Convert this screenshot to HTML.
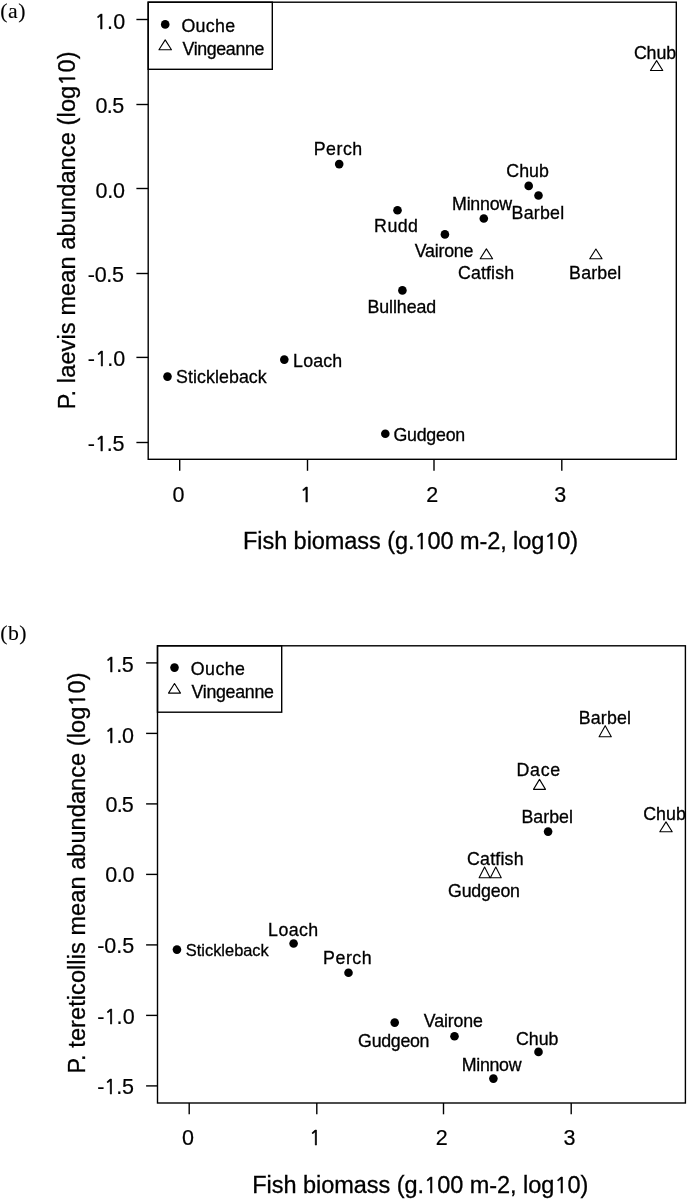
<!DOCTYPE html><html><head><meta charset="utf-8"><style>html,body{margin:0;padding:0;background:#fff;}svg{display:block}text{font-family:"Liberation Sans",Arial,sans-serif;fill:#000;stroke:#000;stroke-width:0.3px}.S{font-family:"Liberation Serif","Times New Roman",serif;font-size:21.8px;stroke-width:0.1px}.L{font-size:17.8px}.T{font-size:21.5px;stroke-width:0.2px}.A{font-size:23.5px}.LS{font-size:16.4px}.one{font-family:NanumGothic,"Liberation Sans",sans-serif;font-size:92%;stroke-width:0.6px}</style></head><body>
<svg width="688" height="1199" viewBox="0 0 688 1199">
<g fill="none" stroke="#000" stroke-width="1.4">
<rect x="148.2" y="2.2" width="528.1" height="457.1"/>
<rect x="148.2" y="2.2" width="124.1" height="67.1"/>
<line x1="136.4" y1="19.5" x2="148.2" y2="19.5"/>
<line x1="136.4" y1="104.5" x2="148.2" y2="104.5"/>
<line x1="136.4" y1="188.5" x2="148.2" y2="188.5"/>
<line x1="136.4" y1="273.5" x2="148.2" y2="273.5"/>
<line x1="136.4" y1="357.4" x2="148.2" y2="357.4"/>
<line x1="136.4" y1="442.5" x2="148.2" y2="442.5"/>
<line x1="179.7" y1="459.3" x2="179.7" y2="470.8"/>
<line x1="307.5" y1="459.3" x2="307.5" y2="470.8"/>
<line x1="434" y1="459.3" x2="434" y2="470.8"/>
<line x1="561.8" y1="459.3" x2="561.8" y2="470.8"/>
<rect x="157.5" y="645.8" width="527.9" height="457.2"/>
<rect x="157.5" y="645.8" width="124.2" height="66.4"/>
<line x1="146.1" y1="662.9" x2="157.5" y2="662.9"/>
<line x1="146.1" y1="733.4" x2="157.5" y2="733.4"/>
<line x1="146.1" y1="803.9" x2="157.5" y2="803.9"/>
<line x1="146.1" y1="874.4" x2="157.5" y2="874.4"/>
<line x1="146.1" y1="944.9" x2="157.5" y2="944.9"/>
<line x1="146.1" y1="1015.4" x2="157.5" y2="1015.4"/>
<line x1="146.1" y1="1085.9" x2="157.5" y2="1085.9"/>
<line x1="189.2" y1="1103" x2="189.2" y2="1114.3"/>
<line x1="316.8" y1="1103" x2="316.8" y2="1114.3"/>
<line x1="443.5" y1="1103" x2="443.5" y2="1114.3"/>
<line x1="571.2" y1="1103" x2="571.2" y2="1114.3"/>
</g><g fill="#000">
<circle cx="165.2" cy="24.4" r="4.3"/>
<circle cx="339.2" cy="164.1" r="4.3"/>
<circle cx="397.5" cy="210.3" r="4.3"/>
<circle cx="444.9" cy="234.4" r="4.3"/>
<circle cx="483.8" cy="218.55" r="4.3"/>
<circle cx="528.7" cy="185.9" r="4.3"/>
<circle cx="538.5" cy="195.5" r="4.3"/>
<circle cx="402.4" cy="290.4" r="4.3"/>
<circle cx="167.5" cy="376.6" r="4.3"/>
<circle cx="284.3" cy="359.6" r="4.3"/>
<circle cx="385.3" cy="433.7" r="4.3"/>
<circle cx="174.5" cy="667.6" r="4.3"/>
<circle cx="548.1" cy="831.6" r="4.3"/>
<circle cx="176.95" cy="949.6" r="4.3"/>
<circle cx="293.6" cy="943.5" r="4.3"/>
<circle cx="348.5" cy="972.8" r="4.3"/>
<circle cx="394.7" cy="1022.6" r="4.3"/>
<circle cx="454.5" cy="1036.2" r="4.3"/>
<circle cx="538.5" cy="1051.9" r="4.3"/>
<circle cx="493.4" cy="1078.6" r="4.3"/>
</g><g fill="none" stroke="#000" stroke-width="1.1" stroke-linejoin="round">
<path d="M165.2 39.9L171.45 49.7H158.95Z"/>
<path d="M486.4 248.9L492.6 258.7H480.2Z"/>
<path d="M595.9 249L602.05 258.8H589.75Z"/>
<path d="M656.6 60.6L662.75 70.5H650.45Z"/>
<path d="M174.5 683.5L180.5 693.1H168.5Z"/>
<path d="M605.2 725.7L611.3 736.8H599.1Z"/>
<path d="M539.5 779.4L545.5 789.35H533.5Z"/>
<path d="M666 821.9L672.2 831.7H659.8Z"/>
<path d="M484.6 867L490.05 877.8H479.15Z"/>
<path d="M495.8 867L501.25 877.8H490.35Z"/>
</g>
<text id="a_ouche" class="L" x="181.41" y="32.05" textLength="53.7" lengthAdjust="spacing">Ouche</text>
<text id="a_vinge" class="L" x="182.45" y="54.6" textLength="81.9" lengthAdjust="spacing">Vingeanne</text>
<text id="a_perch" class="L" x="313.67" y="154.89" textLength="48.54" lengthAdjust="spacing">Perch</text>
<text id="a_rudd" class="L" x="374.11" y="232.36" textLength="43.81" lengthAdjust="spacing">Rudd</text>
<text id="a_minnow" class="L" x="452.11" y="209.76" textLength="60" lengthAdjust="spacing">Minnow</text>
<text id="a_chub" class="L" x="506.35" y="177.47" textLength="42.56" lengthAdjust="spacing">Chub</text>
<text id="a_barbel" class="L" x="511.54" y="218.78" textLength="52.67" lengthAdjust="spacing">Barbel</text>
<text id="a_vairone" class="L" x="414.79" y="257" textLength="58.57" lengthAdjust="spacing">Vairone</text>
<text id="a_catfish" class="L" x="458.01" y="279.09" textLength="56.05" lengthAdjust="spacing">Catfish</text>
<text id="a_barbelv" class="L" x="569.11" y="278.66" textLength="52.17" lengthAdjust="spacing">Barbel</text>
<text id="a_chubv" class="L" x="633.88" y="58.6" textLength="42.21" lengthAdjust="spacing">Chub</text>
<text id="a_bullhead" class="L" x="367.38" y="312.7" textLength="68.81" lengthAdjust="spacing">Bullhead</text>
<text id="a_stickle" class="L" x="176.12" y="383.07" textLength="90.57" lengthAdjust="spacing">Stickleback</text>
<text id="a_loach" class="L" x="293.11" y="366.76" textLength="49.12" lengthAdjust="spacing">Loach</text>
<text id="a_gudgeon" class="L" x="393.43" y="440.52" textLength="71.79" lengthAdjust="spacing">Gudgeon</text>
<text id="a_lab" class="S" x="0.26" y="18.35" textLength="25.36" lengthAdjust="spacing">(a)</text>
<text id="a_xt" class="A" x="243" y="548.9" textLength="335.19" lengthAdjust="spacing">Fish biomass (g.<tspan class="one">1</tspan>00 m-2, log<tspan class="one">1</tspan>0)</text>
<text id="a_yt" class="A" transform="rotate(-90)" x="-409.3" y="75" textLength="357.89" lengthAdjust="spacing">P. laevis mean abundance (log<tspan class="one">1</tspan>0)</text>
<text id="a_y1" class="T" x="94.73" y="28.5" textLength="30.38" lengthAdjust="spacing"><tspan class="one">1</tspan>.0</text>
<text id="a_y2" class="T" x="95.41" y="112.87" textLength="28.88" lengthAdjust="spacing">0.5</text>
<text id="a_y3" class="T" x="95.41" y="197.87" textLength="29.44" lengthAdjust="spacing">0.0</text>
<text id="a_y4" class="T" x="87.86" y="281.5" textLength="35.99" lengthAdjust="spacing">-0.5</text>
<text id="a_y5" class="T" x="87.86" y="366.4" textLength="37.48" lengthAdjust="spacing">-<tspan class="one">1</tspan>.0</text>
<text id="a_y6" class="T" x="87.86" y="450.57" textLength="36.66" lengthAdjust="spacing">-<tspan class="one">1</tspan>.5</text>
<text id="a_x0" class="T" x="172.55" y="501.91">0</text>
<text id="a_x1" class="T" x="299.89" y="501.66"><tspan class="one">1</tspan></text>
<text id="a_x2" class="T" x="426.22" y="501.8">2</text>
<text id="a_x3" class="T" x="554.25" y="501.83">3</text>
<text id="b_lab" class="S" x="0.32" y="640.39" textLength="26.17" lengthAdjust="spacing">(b)</text>
<text id="b_ouche" class="L" x="190.81" y="675.24" textLength="54.2" lengthAdjust="spacing">Ouche</text>
<text id="b_vinge" class="L" x="191.53" y="698.13" textLength="82.33" lengthAdjust="spacing">Vingeanne</text>
<text id="b_barbelv" class="L" x="578.67" y="724.1" textLength="52.38" lengthAdjust="spacing">Barbel</text>
<text id="b_dace" class="L" x="516.54" y="776.13" textLength="43.69" lengthAdjust="spacing">Dace</text>
<text id="b_barbel" class="L" x="521.38" y="822.6" textLength="51.55" lengthAdjust="spacing">Barbel</text>
<text id="b_chubv" class="L" x="643.18" y="820.08" textLength="42.61" lengthAdjust="spacing">Chub</text>
<text id="b_catfish" class="L" x="466.97" y="865.1" textLength="56.64" lengthAdjust="spacing">Catfish</text>
<text id="b_gudgeonv" class="L" x="448.04" y="896.5" textLength="71.92" lengthAdjust="spacing">Gudgeon</text>
<text id="b_stickle" class="LS" x="185.85" y="955.56" textLength="82.92" lengthAdjust="spacing">Stickleback</text>
<text id="b_loach" class="L" x="268.11" y="935.84" textLength="50.12" lengthAdjust="spacing">Loach</text>
<text id="b_perch" class="L" x="323.12" y="963.58" textLength="48.49" lengthAdjust="spacing">Perch</text>
<text id="b_gudgeon" class="L" x="358.12" y="1046.56" textLength="71.31" lengthAdjust="spacing">Gudgeon</text>
<text id="b_vairone" class="L" x="423.82" y="1026.8" textLength="59.14" lengthAdjust="spacing">Vairone</text>
<text id="b_chub" class="L" x="515.88" y="1044.56" textLength="42.6" lengthAdjust="spacing">Chub</text>
<text id="b_minnow" class="L" x="461.67" y="1071.3" textLength="59.91" lengthAdjust="spacing">Minnow</text>
<text id="b_xt" class="A" x="252.21" y="1192.7" textLength="336.11" lengthAdjust="spacing">Fish biomass (g.<tspan class="one">1</tspan>00 m-2, log<tspan class="one">1</tspan>0)</text>
<text id="b_yt" class="A" transform="rotate(-90)" x="-1073.62" y="84.6" textLength="401.13" lengthAdjust="spacing">P. tereticollis mean abundance (log<tspan class="one">1</tspan>0)</text>
<text id="b_y1" class="T" x="104.73" y="672.34" textLength="29.02" lengthAdjust="spacing"><tspan class="one">1</tspan>.5</text>
<text id="b_y2" class="T" x="104.73" y="743.27" textLength="29.31" lengthAdjust="spacing"><tspan class="one">1</tspan>.0</text>
<text id="b_y3" class="T" x="105.55" y="812.2" textLength="28.2" lengthAdjust="spacing">0.5</text>
<text id="b_y4" class="T" x="105.22" y="882.48" textLength="29.28" lengthAdjust="spacing">0.0</text>
<text id="b_y5" class="T" x="97.13" y="952.8" textLength="37.21" lengthAdjust="spacing">-0.5</text>
<text id="b_y6" class="T" x="97.13" y="1023.95" textLength="37.48" lengthAdjust="spacing">-<tspan class="one">1</tspan>.0</text>
<text id="b_y7" class="T" x="97.13" y="1094.2" textLength="36.88" lengthAdjust="spacing">-<tspan class="one">1</tspan>.5</text>
<text id="b_x0" class="T" x="181.96" y="1144.71">0</text>
<text id="b_x1" class="T" x="309.34" y="1144.85"><tspan class="one">1</tspan></text>
<text id="b_x2" class="T" x="435.68" y="1144.75">2</text>
<text id="b_x3" class="T" x="563.6" y="1144.77">3</text>
</svg></body></html>
